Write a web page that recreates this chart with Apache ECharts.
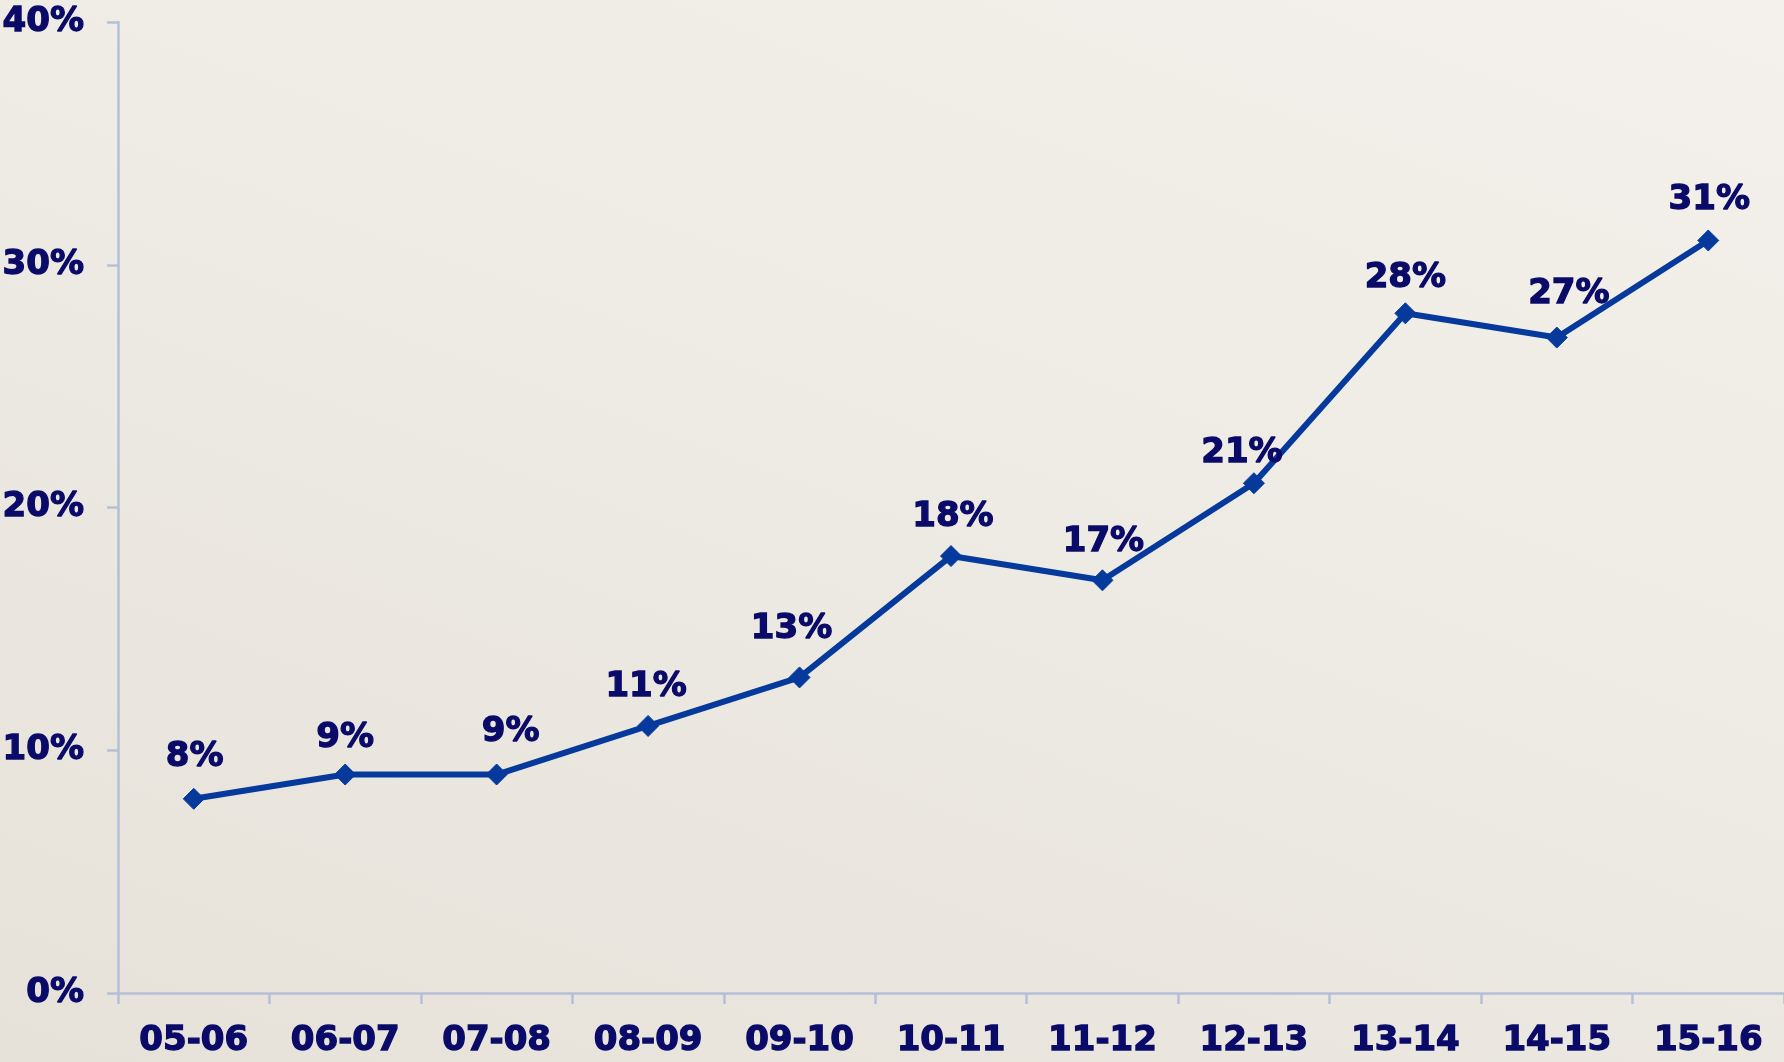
<!DOCTYPE html>
<html>
<head>
<meta charset="utf-8">
<title>Share by season</title>
<script src="https://cdn.jsdelivr.net/npm/echarts@6/dist/echarts.min.js"></script>
<style>
  html, body { margin: 0; padding: 0; }
  body { width: 1784px; height: 1062px; overflow: hidden;
         background: linear-gradient(200deg, #f4f1ec 0%, #eeebe4 45%, #e6e2da 100%); }
  #chart { width: 1784px; height: 1062px; }
</style>
</head>
<body>
<div id="chart"></div>
<script>
// Seasons along the x axis
const seasons = ['05-06', '06-07', '07-08', '08-09', '09-10', '10-11', '11-12', '12-13', '13-14', '14-15', '15-16'];
// Percentage for each season
const shares = [8, 9, 9, 11, 13, 18, 17, 21, 28, 27, 31];
// Y axis range and step (percent)
const yMin = 0, yMax = 40, yStep = 10;
// Small nudges [dx, dy] for each value label relative to its point
const labelNudge = [[1, -42], [0, -36], [14, -42], [-2, -39], [-8, -48], [2, -39], [1, -38], [-12, -30], [0, -35], [12, -43], [1, -40]];

const FONT = 'DejaVu Sans';
const NAVY = '#0a0a68';
const LINE = '#053a9c';
const AXIS = '#b5c0d8';

// Heavy bold text used for every label in the chart
const textStyle = {
  color: NAVY, fontFamily: FONT, fontWeight: 'bold', fontSize: 34,
  textBorderColor: NAVY, textBorderWidth: 1.3
};

const chart = echarts.init(document.getElementById('chart'), null, { renderer: 'canvas' });

chart.setOption({
  backgroundColor: 'transparent',
  animation: false,
  grid: { left: 118, right: 0, top: 22, bottom: 69, containLabel: false, outerBoundsMode: 'none' },
  xAxis: {
    type: 'category',
    data: seasons,
    boundaryGap: true,
    axisLine: { show: true, lineStyle: { color: AXIS, width: 2.5 } },
    axisTick: { show: true, length: 11, alignWithLabel: false, lineStyle: { color: AXIS, width: 2.5 } },
    axisLabel: Object.assign({ margin: 31, interval: 0 }, textStyle),
    splitLine: { show: false }
  },
  yAxis: {
    type: 'value',
    min: yMin, max: yMax, interval: yStep,
    axisLine: { show: true, lineStyle: { color: AXIS, width: 2.5 } },
    axisTick: { show: true, length: 11, lineStyle: { color: AXIS, width: 2.5 } },
    axisLabel: Object.assign({ margin: 34, formatter: '{value}%' }, textStyle),
    splitLine: { show: false }
  },
  series: [{
    type: 'line',
    data: shares.map((v, i) => ({
      value: v,
      label: { offset: labelNudge[i] }
    })),
    symbol: 'diamond',
    symbolSize: 21,
    lineStyle: { color: LINE, width: 6 },
    itemStyle: { color: LINE, borderColor: LINE, borderWidth: 1, borderJoin: 'round' },
    label: Object.assign({
      show: true,
      position: 'inside',
      formatter: p => p.value + '%'
    }, textStyle),
    z: 3
  }]
});
</script>
</body>
</html>
